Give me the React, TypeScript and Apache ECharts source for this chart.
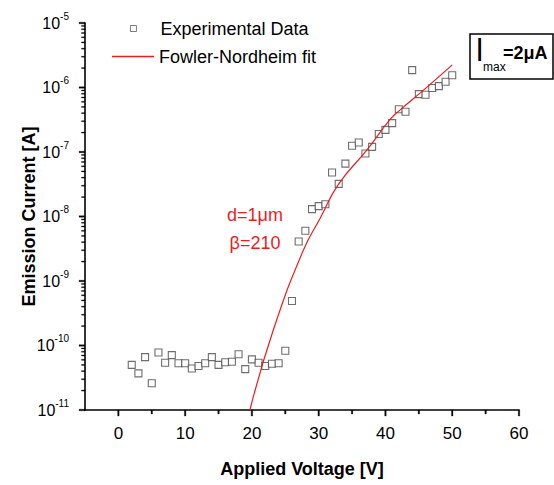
import React, { useEffect, useRef } from 'react';
import * as echarts from 'echarts';

const voltages = [2, 3, 4, 5, 6, 7, 8, 9, 10, 11, 12, 13, 14, 15, 16, 17, 18, 19, 20, 21, 22, 23, 24, 25, 26, 27, 28, 29, 30, 31, 32, 33, 34, 35, 36, 37, 38, 39, 40, 41, 42, 43, 44, 45, 46, 47, 48, 49, 50];
const currents = [
  5.0e-11, 3.7e-11, 6.6e-11, 2.6e-11, 7.8e-11, 5.4e-11, 7.1e-11, 5.3e-11, 5.3e-11, 4.4e-11,
  4.8e-11, 5.3e-11, 6.6e-11, 5.0e-11, 5.5e-11, 5.6e-11, 7.3e-11, 4.3e-11, 6.1e-11, 5.4e-11,
  4.8e-11, 5.2e-11, 5.3e-11, 8.3e-11, 4.9e-10, 4.1e-9, 6.0e-9, 1.3e-8, 1.45e-8, 1.55e-8,
  4.8e-8, 3.2e-8, 6.6e-8, 1.25e-7, 1.4e-7, 9.5e-8, 1.2e-7, 1.9e-7, 2.2e-7, 2.8e-7,
  4.6e-7, 4.2e-7, 1.86e-6, 7.9e-7, 7.7e-7, 9.8e-7, 1.05e-6, 1.23e-6, 1.55e-6,
];
const fitVoltages = [19.7, 23.2, 27.7, 30.2, 33, 37.2, 40.7, 42.2, 45.7, 50];
const fitCurrents = [1.0e-11, 1.74e-10, 3.0e-9, 9.3e-9, 3.2e-8, 1.07e-7, 3.2e-7, 4.5e-7, 9.1e-7, 2.24e-6];

const X_MIN = -5;
const X_MAX = 60;
const xLabelValues = [0, 10, 20, 30, 40, 50, 60];
const xMinorTickValues = [5, 15, 25, 35, 45, 55];
const yDecades = [-11, -10, -9, -8, -7, -6, -5];
const yMinorMantissas = [2, 3, 4, 5, 6, 7, 8, 9];

const seriesNames = ['Experimental Data', 'Fowler-Nordheim fit'];
const annotationLines = ['d=1μm', 'β=210'];
const boxMain = 'I';
const boxSub = 'max';
const boxRest = '=2μA';

const FONT = '"Liberation Sans", Arial, sans-serif';
const RED = '#ee1c1c';

export default function App() {
  const ref = useRef<HTMLDivElement>(null);
  useEffect(() => {
    if (!ref.current) return;
    const chart = echarts.init(ref.current, null, { renderer: 'svg' });
    const yMajor = yDecades.map((d) => Math.pow(10, d));
    const yMinor: number[] = [];
    yDecades.slice(0, -1).forEach((d) => yMinorMantissas.forEach((m) => yMinor.push(m * Math.pow(10, d))));
    const yMin = yMajor[0];
    const yMax = yMajor[yMajor.length - 1];

    const option: any = {
      animation: false,
      textStyle: { fontFamily: FONT },
      grid: { left: 85, top: 23, width: 434, height: 387, outerBoundsMode: 'none' },
      legend: [
        {
          orient: 'vertical',
          left: 130,
          top: 19,
          padding: 0,
          itemWidth: 6,
          itemHeight: 6,
          itemStyle: { color: '#fff', borderColor: '#4a4a4a', borderWidth: 0.9 },
          textStyle: { fontSize: 18, lineHeight: 19, color: '#000', fontFamily: FONT, padding: [0, 0, 0, 19] },
          data: [{ name: seriesNames[0], icon: 'rect' }],
        },
        {
          orient: 'vertical',
          left: 112,
          top: 47,
          padding: 0,
          itemWidth: 42,
          itemHeight: 1.3,
          textStyle: { fontSize: 18, lineHeight: 19, color: '#000', fontFamily: FONT },
          data: [{ name: seriesNames[1], icon: 'rect' }],
        },
      ],
      xAxis: {
        type: 'value',
        min: X_MIN,
        max: X_MAX,
        name: 'Applied Voltage [V]',
        nameLocation: 'middle',
        nameGap: 50,
        nameMoveOverlap: false,
        nameTextStyle: { fontSize: 18, fontWeight: 'bold', color: '#000', fontFamily: FONT },
        axisLine: { onZero: false, lineStyle: { color: '#000', width: 1.6 } },
        axisTick: { show: false },
        axisLabel: { customValues: xLabelValues, fontSize: 17, color: '#000', margin: 15, fontFamily: FONT },
        splitLine: { show: false },
      },
      yAxis: {
        type: 'log',
        logBase: 10,
        min: yMin,
        max: yMax,
        name: 'Emission Current [A]',
        nameLocation: 'middle',
        nameGap: 47,
        nameMoveOverlap: false,
        nameTextStyle: { fontSize: 18, fontWeight: 'bold', color: '#000', fontFamily: FONT },
        axisLine: { show: true, onZero: false, lineStyle: { color: '#000', width: 1.6 } },
        axisTick: { show: false },
        axisLabel: {
          customValues: yMajor,
          margin: 16,
          formatter: (v: number) => `{a|10}{b|${Math.round(Math.log10(v))}}`,
          rich: {
            a: { fontSize: 16, color: '#000', fontFamily: FONT },
            b: { fontSize: 10, color: '#000', fontFamily: FONT, padding: [0, 0, 14, 0] },
          },
        },
        splitLine: { show: false },
      },
      series: [
        {
          name: seriesNames[0],
          type: 'scatter',
          symbol: 'rect',
          symbolSize: 7,
          itemStyle: { color: '#fff', borderColor: '#4a4a4a', borderWidth: 1.1 },
          data: voltages.map((v, i) => [v, currents[i]]),
          z: 3,
        },
        {
          name: seriesNames[1],
          type: 'line',
          symbol: 'none',
          smooth: true,
          lineStyle: { color: RED, width: 1.2 },
          itemStyle: { color: RED },
          data: fitVoltages.map((v, i) => [v, fitCurrents[i]]),
          z: 4,
        },
      ],
    };
    chart.setOption(option);

    const toPx = (x: number, y: number) => chart.convertToPixel({ gridIndex: 0 }, [x, y]) as number[];
    const tickRect = (x: number, y: number, w: number, h: number) => ({
      type: 'rect',
      shape: { x, y, width: w, height: h },
      style: { fill: '#000', stroke: '#000', lineWidth: 0.3 },
    });
    const ticks: any[] = [];
    xLabelValues.forEach((v) => {
      const p = toPx(v, yMin);
      ticks.push(tickRect(p[0] - 0.75, p[1], 1.5, 6));
    });
    xMinorTickValues.forEach((v) => {
      const p = toPx(v, yMin);
      ticks.push(tickRect(p[0] - 0.75, p[1], 1.5, 4));
    });
    yMajor.forEach((v) => {
      const p = toPx(X_MIN, v);
      ticks.push(tickRect(p[0] - 6, p[1] - 0.75, 6, 1.5));
    });
    yMinor.forEach((v) => {
      const p = toPx(X_MIN, v);
      ticks.push(tickRect(p[0] - 3.5, p[1] - 0.5, 3.5, 1));
    });

    const texts: any[] = [
      {
        type: 'text',
        x: 255,
        y: 215,
        style: { text: annotationLines[0], fontSize: 18, fill: RED, align: 'center', verticalAlign: 'middle', fontFamily: FONT },
      },
      {
        type: 'text',
        x: 255,
        y: 243,
        style: { text: annotationLines[1], fontSize: 18, fill: RED, align: 'center', verticalAlign: 'middle', fontFamily: FONT },
      },
      {
        type: 'rect',
        shape: { x: 470, y: 34, width: 83, height: 45 },
        style: { fill: '#fff', stroke: '#000', lineWidth: 1.5 },
      },
      {
        type: 'text',
        x: 477,
        y: 50,
        scaleY: 1.7,
        style: { text: boxMain, fontSize: 19, fontWeight: 'bold', fill: '#000', align: 'left', verticalAlign: 'middle', fontFamily: FONT },
      },
      {
        type: 'text',
        x: 483,
        y: 67,
        style: { text: boxSub, fontSize: 12, fill: '#000', align: 'left', verticalAlign: 'middle', fontFamily: FONT },
      },
      {
        type: 'text',
        x: 503,
        y: 53,
        style: { text: boxRest, fontSize: 18, fontWeight: 'bold', fill: '#000', align: 'left', verticalAlign: 'middle', fontFamily: FONT },
      },
    ];
    chart.setOption({ graphic: [...texts, ...ticks] });
    return () => chart.dispose();
  }, []);
  return <div ref={ref} style={{ position: 'absolute', left: 0, top: 0, width: 554, height: 485 }} />;
}
